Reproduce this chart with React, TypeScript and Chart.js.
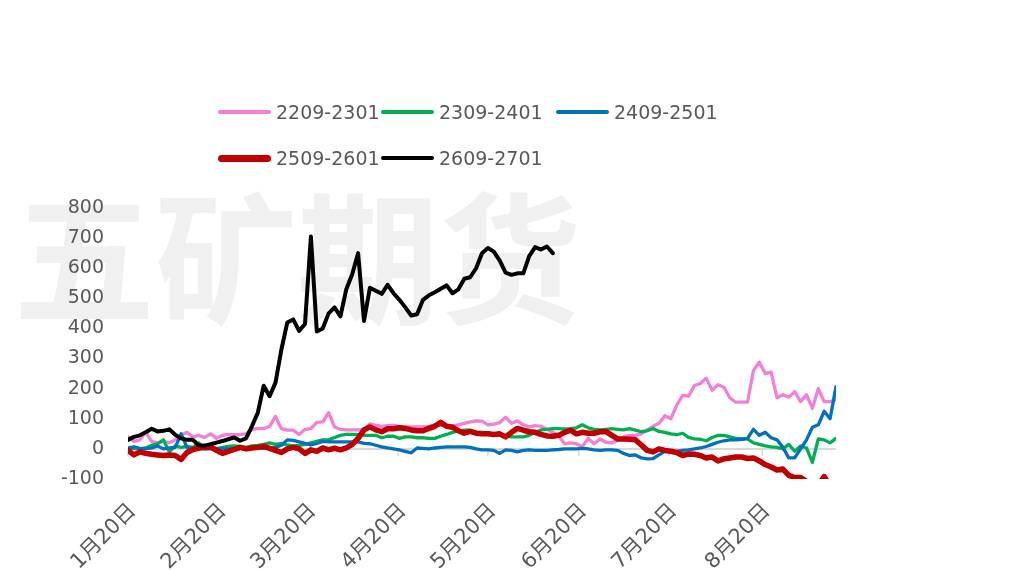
import React, { useEffect, useRef } from 'react';
import { Chart, registerables } from 'chart.js';

Chart.register(...registerables);

const seriesNames = ['2209-2301', '2309-2401', '2409-2501', '2509-2601', '2609-2701'];
const seriesColors = ['#F47FD8', '#00B050', '#0070C0', '#C00000', '#000000'];
const seriesWidths = [3.3, 3.3, 3.3, 5.5, 4];
const legendLineWidths = [4, 4, 4, 7, 4];

const monthTickPos = [0, 15.3, 30.5, 45.8, 61, 76.4, 91.7, 107.5];
const monthTickLabels = ['1月20日', '2月20日', '3月20日', '4月20日', '5月20日', '6月20日', '7月20日', '8月20日'];

const yTickMin = -100;
const yTickMax = 800;
const yTickStep = 100;

const pink = [
  40, 25, 30, 55, 25, 20, 25, 20, 30, 45,
  55, 40, 45, 38, 50, 35, 45, 48, 47, 47,
  50, 65, 67, 67, 75, 108, 67, 62, 62, 48,
  65, 67, 88, 90, 120, 73, 65, 63, 63, 63,
  63, 83, 78, 75, 77, 78, 75, 73, 73, 73,
  73, 75, 80, 78, 77, 77, 80, 85, 90, 93,
  92, 80, 82, 87, 105, 85, 93, 80, 73, 77,
  75, 65, 55, 43, 17, 20, 17, 7, 35, 17,
  33, 22, 20, 28, 40, 45, 45, 50, 63, 75,
  85, 110, 100, 145, 178, 175, 210, 217, 235, 195,
  213, 205, 170, 155, 155, 155, 260, 288, 250, 255,
  170, 180, 172, 190, 157, 180, 135, 200, 157, 157,
  163,
];

const green = [
  0, 2, 0, 3, 12, 17, 30, -10, 10, 5,
  8, 5, 20, 0, 3, 0, 5, 8, 10, 8,
  5, 10, 12, 15, 20, 15, 18, 13, 10, 12,
  15, 20, 25, 30, 30, 38, 45, 48, 48, 47,
  45, 45, 45, 37, 42, 42, 35, 40, 40, 37,
  37, 35, 35, 42, 48, 55, 60, 62, 62, 55,
  55, 53, 50, 45, 43, 40, 40, 40, 45, 55,
  63, 65, 67, 67, 66, 67, 70, 80, 70, 65,
  63, 65, 67, 65, 63, 67, 62, 57, 60, 68,
  58, 55, 50, 47, 52, 38, 33, 32, 27, 38,
  45, 45, 40, 35, 33, 33, 20, 15, 10, 7,
  5, 0, 15, -8, 10, 3, -45, 33, 30, 20,
  35,
];

const blue = [
  3, 7, 2, 0, 3, 10, 0, 3, 5, 50,
  5, 0, 2, 0, 0, 2, 0, 0, 0, 2,
  3, 3, 3, 3, 3, 5, 12, 30, 28, 23,
  18, 13, 18, 25, 23, 23, 23, 23, 23, 23,
  18, 17, 12, 7, 3, 0, -3, -8, -13, 3,
  2, 0, 3, 5, 7, 7, 7, 7, 5, 0,
  -3, -3, -5, -15, -3, -5, -10, -5, -3, -5,
  -5, -5, -3, -2, 0, 0, 0, 2, 0, -3,
  -5, -3, -3, -5, -15, -22, -20, -30, -33, -32,
  -20, -8, -10, -8, -5, -3, 0, 3, 8, 15,
  22, 27, 30, 30, 32, 35, 65, 45, 55, 37,
  30, 5, -30, -30, 0, 30, 72, 80, 125, 100,
  207,
];

const red = [
  -5, -20, -10, -15, -18, -20, -22, -20, -22, -35,
  -12, -2, 3, 5, 7, -5, -15, -8, -2, 5,
  0, 3, 5, 8, 2, -5, -12, 0, 5, 0,
  -15, -3, -8, 3, -3, 2, -3, 3, 15, 35,
  63, 73, 63, 57, 67, 67, 70, 68, 63, 60,
  60, 68, 75, 88, 75, 72, 60, 52, 58, 52,
  50, 50, 48, 50, 40, 55, 68, 62, 57, 55,
  48, 43, 42, 45, 55, 62, 50, 55, 52, 52,
  57, 58, 45, 33, 33, 32, 30, 13, -5, -10,
  0, -5, -8, -12, -22, -17, -18, -22, -30, -27,
  -40, -33, -30, -27, -27, -32, -30, -40, -52, -60,
  -70, -67, -88, -95, -95, -108, -125, -120, -92, -125,
  -130,
];

const black = [
  30, 40, 45, 55, 67, 58, 60, 65, 47, 35,
  30, 30, 12, 11, 16, 21, 26, 32, 38, 27,
  35, 75, 120, 210, 175, 220, 330, 420, 430, 392,
  415, 705, 390, 400, 450, 470, 440, 530, 580, 650,
  425, 535, 525, 515, 545, 517, 495, 470, 443, 447,
  495, 510, 520, 532, 543, 517, 530, 565, 570, 600,
  650, 667, 655, 625, 585, 578, 583, 583, 640, 670,
  662, 672, 650,
];

const seriesData = [pink, green, blue, red, black];
const dayIndex = pink.map((_, i) => i);

const legendRows = [[0, 1, 2], [3, 4]];
const legendColX = [218, 381, 556];
const legendRowY = [112, 158];

const textColor = '#595959';
const fontFamily = '"DejaVu Sans", "Noto Sans CJK SC", sans-serif';

const watermarkPlugin = {
  id: 'watermark',
  beforeDraw(chart: any) {
    const ctx = chart.ctx;
    ctx.save();
    ctx.fillStyle = '#F0F0F0';
    ctx.font = 'bold 142px "Noto Sans CJK SC"';
    ctx.textAlign = 'center';
    ctx.textBaseline = 'middle';
    ctx.fillText('五矿期货', 297, 259);
    ctx.restore();
  },
};

const zeroTicksPlugin = {
  id: 'zeroTicks',
  beforeDatasetsDraw(chart: any) {
    const ctx = chart.ctx;
    const xs = chart.scales.x;
    const ys = chart.scales.y;
    const y0 = ys.getPixelForValue(0);
    ctx.save();
    ctx.strokeStyle = '#D9D9D9';
    ctx.lineWidth = 1.5;
    monthTickPos.forEach((v) => {
      const x = xs.getPixelForValue(v);
      ctx.beginPath();
      ctx.moveTo(x, y0);
      ctx.lineTo(x, y0 + 7);
      ctx.stroke();
    });
    ctx.restore();
  },
};

function Legend() {
  return (
    <>
      {legendRows.map((row, r) =>
        row.map((si, c) => (
          <div
            key={si}
            style={{
              position: 'absolute',
              left: legendColX[c],
              top: legendRowY[r] - 13,
              height: 26,
              display: 'flex',
              alignItems: 'center',
              whiteSpace: 'nowrap',
            }}
          >
            <div
              style={{
                width: 53,
                height: legendLineWidths[si],
                background: seriesColors[si],
                borderRadius: legendLineWidths[si] / 2,
              }}
            />
            <span
              style={{
                marginLeft: 5,
                fontFamily,
                fontSize: 19,
                color: textColor,
              }}
            >
              {seriesNames[si]}
            </span>
          </div>
        ))
      )}
    </>
  );
}

export default function App() {
  const canvasRef = useRef<HTMLCanvasElement | null>(null);

  useEffect(() => {
    if (!canvasRef.current) return;
    const chart = new Chart(canvasRef.current, {
      type: 'line',
      data: {
        labels: dayIndex,
        datasets: seriesData.map((d, i) => ({
          label: seriesNames[i],
          data: d,
          borderColor: seriesColors[i],
          backgroundColor: seriesColors[i],
          borderWidth: seriesWidths[i],
          pointRadius: 0,
          tension: 0,
          fill: false,
          order: 5 - i,
          borderJoinStyle: 'round' as const,
          borderCapStyle: 'round' as const,
        })),
      },
      options: {
        animation: false,
        responsive: true,
        maintainAspectRatio: false,
        layout: { padding: { top: 208, right: 181, bottom: 0, left: 0 } },
        plugins: {
          legend: { display: false },
          tooltip: { enabled: false },
        },
        scales: {
          x: {
            type: 'linear',
            min: 0,
            max: dayIndex.length - 1,
            grid: { display: false, drawTicks: false },
            border: { display: false },
            afterBuildTicks: (s: any) => {
              s.ticks = monthTickPos.map((v) => ({ value: v }));
            },
            afterFit: (s: any) => {
              s.height = 91;
            },
            ticks: {
              autoSkip: false,
              minRotation: 45,
              maxRotation: 45,
              padding: 20,
              labelOffset: 5,
              color: textColor,
              font: { family: fontFamily, size: 21 },
              callback: (_v: any, i: number) => monthTickLabels[i],
            },
          },
          y: {
            min: yTickMin,
            max: yTickMax,
            afterFit: (s: any) => {
              s.width = 128;
            },
            grid: {
              drawTicks: false,
              lineWidth: 2,
              color: (ctx: any) => (ctx.tick && ctx.tick.value === 0 ? '#D9D9D9' : 'rgba(0,0,0,0)'),
            },
            border: { display: false },
            ticks: {
              stepSize: yTickStep,
              padding: 24,
              color: textColor,
              font: { family: fontFamily, size: 19 },
            },
          },
        },
      },
      plugins: [watermarkPlugin, zeroTicksPlugin],
    });
    return () => chart.destroy();
  }, []);

  return (
    <div
      style={{
        position: 'fixed',
        left: 0,
        top: 0,
        width: 1017,
        height: 570,
        background: '#FFFFFF',
      }}
    >
      <canvas ref={canvasRef} />
      <Legend />
    </div>
  );
}
